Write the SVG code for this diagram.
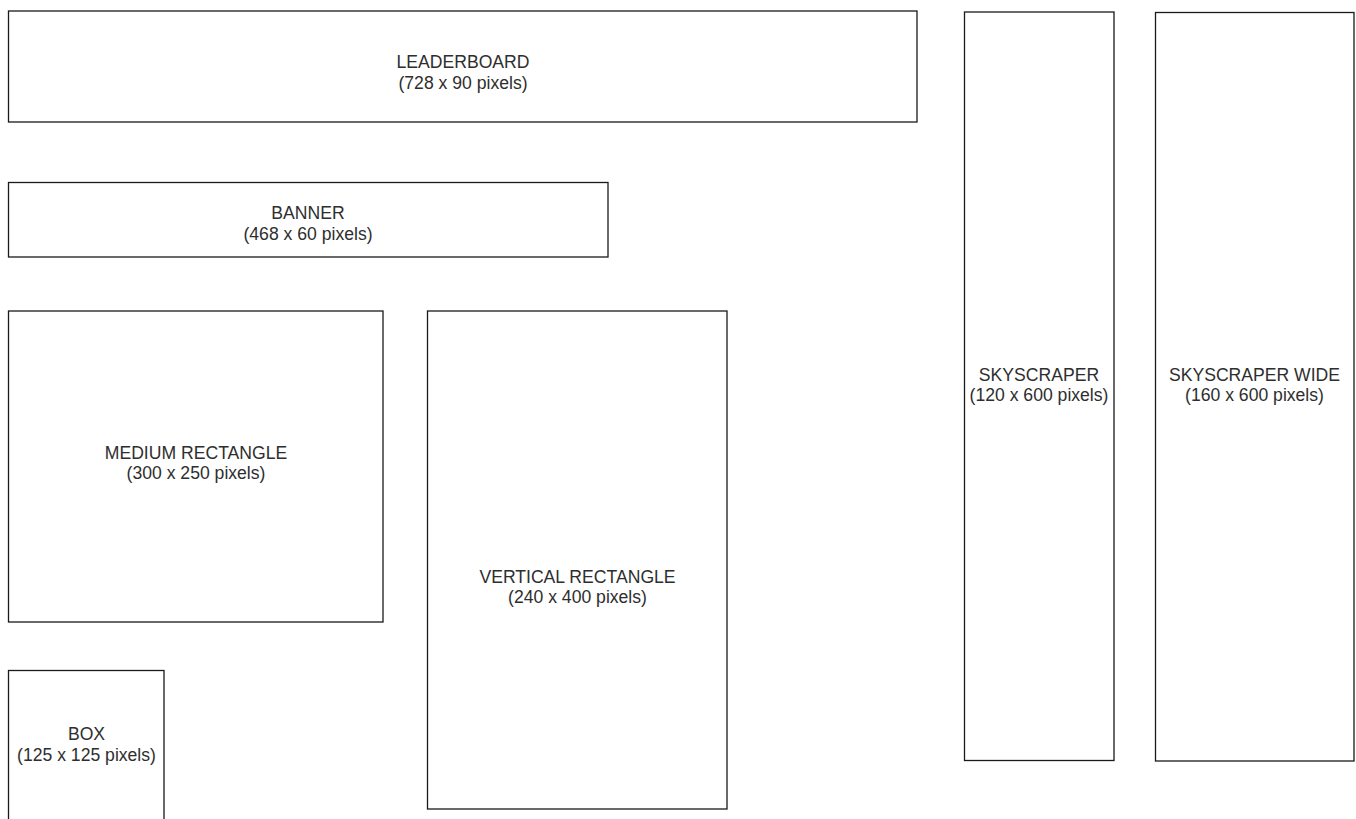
<svg xmlns="http://www.w3.org/2000/svg" width="1356" height="819" viewBox="0 0 1356 819">
<style>
.ad{fill:#ffffff;stroke:#1a1a1a;stroke-width:1.3}
.lbl{font-family:"Liberation Sans",Arial,Helvetica,sans-serif;font-size:17.6px;fill:#2e2e2e;text-anchor:middle}
</style>
<rect width="1356" height="819" fill="#ffffff"/>
<g id="leaderboard">
<rect class="ad" x="8.5" y="11" width="908.5" height="111"/>
<text class="lbl" x="463" y="68">LEADERBOARD</text>
<text class="lbl" x="463" y="88.5">(728 x 90 pixels)</text>
</g>
<g id="skyscraper">
<rect class="ad" x="964.5" y="12" width="149.5" height="748.5"/>
<text class="lbl" x="1039" y="380.5">SKYSCRAPER</text>
<text class="lbl" x="1039" y="401">(120 x 600 pixels)</text>
</g>
<g id="skyscraper-wide">
<rect class="ad" x="1155.5" y="12.5" width="198.5" height="748.5"/>
<text class="lbl" x="1254.5" y="380.5">SKYSCRAPER WIDE</text>
<text class="lbl" x="1254.5" y="401">(160 x 600 pixels)</text>
</g>
<g id="banner">
<rect class="ad" x="8.5" y="182.5" width="599.5" height="74.5"/>
<text class="lbl" x="308" y="219">BANNER</text>
<text class="lbl" x="308" y="239.5">(468 x 60 pixels)</text>
</g>
<g id="medium-rectangle">
<rect class="ad" x="8.5" y="311" width="374.5" height="311"/>
<text class="lbl" x="196" y="458.5">MEDIUM RECTANGLE</text>
<text class="lbl" x="196" y="479">(300 x 250 pixels)</text>
</g>
<g id="vertical-rectangle">
<rect class="ad" x="427.5" y="311" width="299.5" height="498"/>
<text class="lbl" x="577.5" y="582.5">VERTICAL RECTANGLE</text>
<text class="lbl" x="577.5" y="603">(240 x 400 pixels)</text>
</g>
<g id="box">
<rect class="ad" x="8.5" y="670.5" width="155.5" height="160"/>
<text class="lbl" x="86.5" y="740">BOX</text>
<text class="lbl" x="86.5" y="760.5">(125 x 125 pixels)</text>
</g>
<g id="connectors"></g>
</svg>
